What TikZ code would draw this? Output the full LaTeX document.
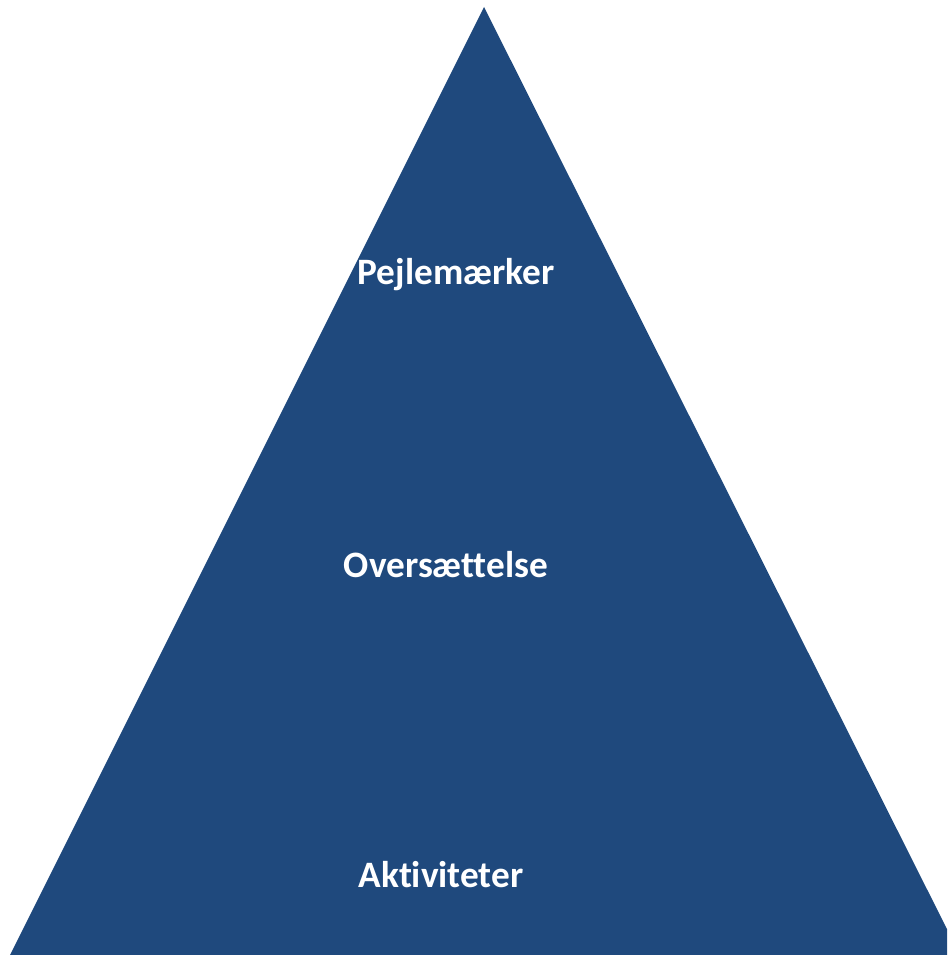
\documentclass[tikz,border=0pt]{standalone}
\usepackage{fontspec}
\setmainfont{Carlito}[Ligatures={NoCommon}]
\definecolor{pyrblue}{RGB}{31,73,125}
\begin{document}
\begin{tikzpicture}[x=0.01cm,y=-0.01cm,
	niveau/.style={text=white,font=\fontsize{10.6}{12}\selectfont\bfseries,inner sep=0pt}]
	% le cadre
	\useasboundingbox (0,0) rectangle (947,955);
	\clip (0,0) rectangle (947,955);
	% la pyramide
	\coordinate (sommet) at (484,7);
	\coordinate (gauche) at (10,955);
	\coordinate (droite) at (960,955);
	\fill[pyrblue] (sommet) -- (gauche) -- (droite) -- cycle;
	\node[niveau] (pejl) at (456,275) {Pejlemærker};
	\node[niveau] (overs) at (446,565) {Oversættelse};
	\node[niveau] (akt) at (441,875) {Aktiviteter};
\end{tikzpicture}
\end{document}
